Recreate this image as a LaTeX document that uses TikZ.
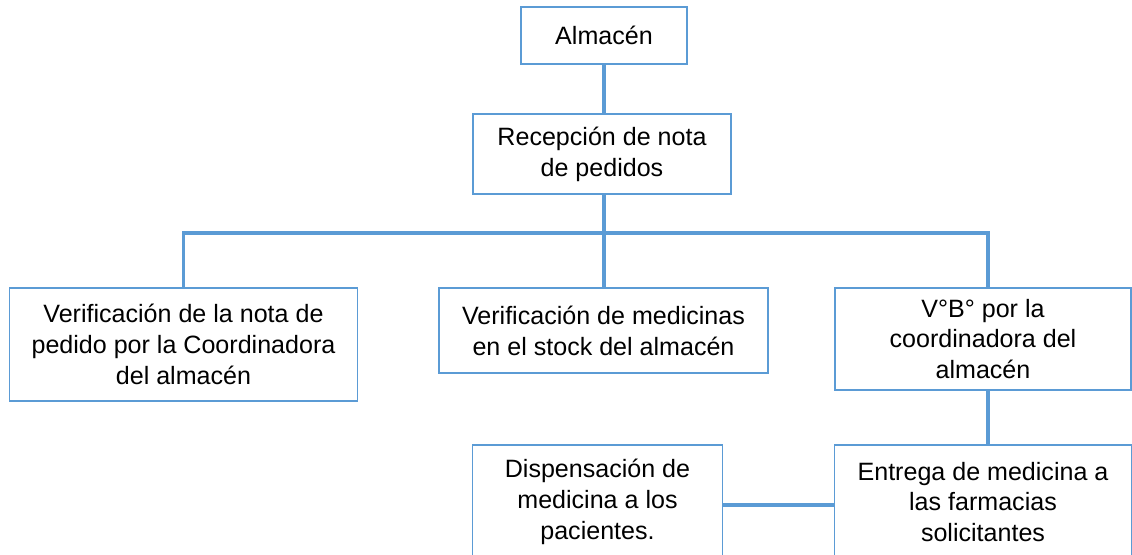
\documentclass[tikz,border=0pt]{standalone}
\usepackage{fontspec}
\setmainfont{Liberation Sans}
\definecolor{lineblue}{RGB}{91,155,213}
\tikzset{box/.style={draw=lineblue, line width=1.1pt, fill=white, align=center,
         inner sep=0pt, font=\fontsize{18.8}{23.2}\selectfont},
         link/.style={draw=lineblue, line width=2.6pt}}
\begin{document}
\begin{tikzpicture}[x=0.75pt,y=-0.75pt]
  \useasboundingbox (0,0) rectangle (1132,554);
  \node[box, minimum width=166*0.75pt, minimum height=57*0.75pt] (alm) at (604,35.5) {Almacén};
  \node[box, minimum width=258*0.75pt, minimum height=80*0.75pt] (rec) at (602,154) {Recepción de nota\\de pedidos};
  \node[box, minimum width=348*0.75pt, minimum height=113*0.75pt] (ver1) at (183.5,344.5) {Verificación de la nota de\\pedido por la Coordinadora\\del almacén};
  \node[box, minimum width=329*0.75pt, minimum height=85*0.75pt] (ver2) at (603.5,330.5) {Verificación de medicinas\\en el stock del almacén};
  \node[box, minimum width=296*0.75pt, minimum height=102*0.75pt] (vb) at (983,339) {V°B° por la\\coordinadora del\\almacén};
  \node[box, minimum width=250*0.75pt, minimum height=114*0.75pt] (disp) at (597.5,502) {Dispensación de\\medicina a los\\pacientes.};
  \node[box, minimum width=297*0.75pt, minimum height=114*0.75pt] (ent) at (983,502) {Entrega de medicina a\\las farmacias\\solicitantes};
  \coordinate (bus) at (604,233);
  \coordinate (vbin) at (988,288);
  \coordinate (vbout) at (988,390);
  \coordinate (entin) at (988,445);
  \coordinate (dispout) at (723,505);
  \draw[link] (alm.south) -- (alm.south |- rec.north);
  \draw[link] (rec.south -| bus) -- (bus);
  \draw[link] (ver1.north) |- (bus) -| (vbin);
  \draw[link] (bus) -- (bus |- ver2.north);
  \draw[link] (vbout) -- (entin);
  \draw[link] (dispout) -- (dispout -| ent.west);
\end{tikzpicture}
\end{document}
